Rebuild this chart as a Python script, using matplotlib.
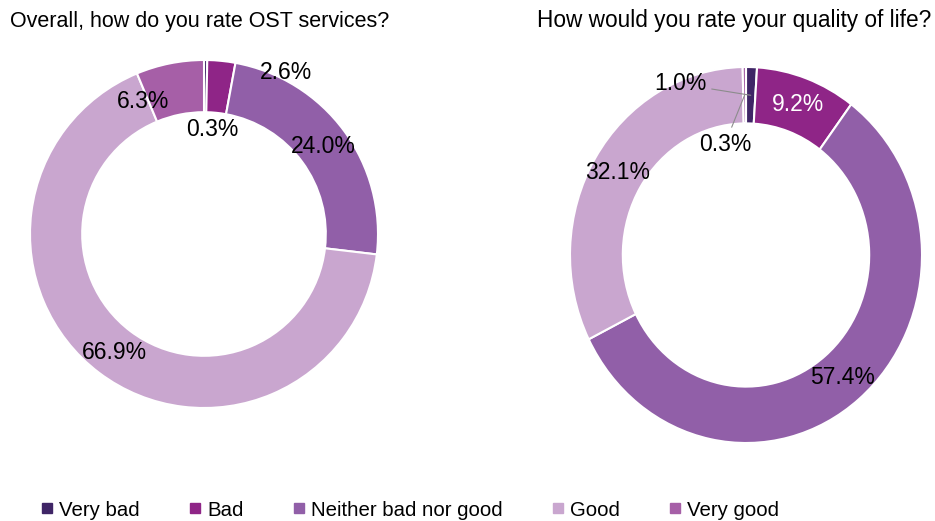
import numpy as np
import matplotlib
matplotlib.use("Agg")
import matplotlib.pyplot as plt
from matplotlib.lines import Line2D

plt.rcParams['font.family'] = ['Liberation Sans', 'DejaVu Sans']

categories = ['Very bad', 'Bad', 'Neither bad nor good', 'Good', 'Very good']
colors = ['#3f2566', '#8f2587', '#915fa8', '#c9a6cf', '#a65fa7']

ost_title = 'Overall, how do you rate OST services?'
ost_values = [0.3, 2.6, 24.0, 66.9, 6.3]

qol_title = 'How would you rate your quality of life?'
qol_values = [1.0, 9.2, 57.4, 32.1, 0.3]

# label placement (pie units); None = middle of the ring
ost_label_pos = [(0.05, 0.60), (0.47, 0.93), None, None, (-0.35, 0.76)]
qol_label_pos = [(-0.375, 0.91), None, None, None, (-0.12, 0.59)]
qol_leader = [True, False, False, False, True]
qol_label_colors = ['black', 'white', 'black', 'black', 'black']

RING = 0.30


def donut(ax, values, label_pos, leader=None, label_colors=None):
    wedges, _ = ax.pie(values, colors=colors, startangle=90, counterclock=False,
                       radius=1, wedgeprops=dict(width=RING, edgecolor='white', linewidth=1.5))
    ax.set_aspect('auto')
    ax.set_xlim(-1, 1)
    ax.set_ylim(-1, 1)
    ax.axis('off')
    for i, (w, v) in enumerate(zip(wedges, values)):
        ang = np.deg2rad((w.theta1 + w.theta2) / 2)
        rmid = 1 - RING / 2
        px, py = rmid * np.cos(ang), rmid * np.sin(ang)
        col = label_colors[i] if label_colors else 'black'
        pos = label_pos[i]
        txt = f'{v:.1f}%'
        if pos is None:
            ax.text(px, py, txt, ha='center', va='center', fontsize=16.5, color=col)
        elif leader and leader[i]:
            ax.annotate(txt, xy=(px, py), xytext=pos, ha='center', va='center',
                        fontsize=16.5, color=col,
                        arrowprops=dict(arrowstyle='-', color='#8c8c8c', lw=0.8,
                                        shrinkA=2, shrinkB=0))
        else:
            ax.text(pos[0], pos[1], txt, ha='center', va='center', fontsize=16.5, color=col)


fig = plt.figure(figsize=(9.35, 5.21), dpi=100)

ax1 = fig.add_axes([30 / 935, 1 - 408 / 521, 348 / 935, 348 / 521])
donut(ax1, ost_values, ost_label_pos)

ax2 = fig.add_axes([570 / 935, 1 - 443 / 521, 352 / 935, 376 / 521])
donut(ax2, qol_values, qol_label_pos, qol_leader, qol_label_colors)

fig.text(10 / 935, 1 - 22 / 521, ost_title, fontsize=15.5, va='center', ha='left')
fig.text(537 / 935, 1 - 20 / 521, qol_title, fontsize=16.3, va='center', ha='left')

handles = [Line2D([], [], marker='s', linestyle='none', markersize=7,
                  markerfacecolor=c, markeredgecolor=c) for c in colors]
fig.legend(handles, categories, loc='center', bbox_to_anchor=(410 / 935, 1 - 510 / 521),
           ncol=5, frameon=False, fontsize=14.7, handlelength=0.6, handletextpad=0.3,
           columnspacing=2.4)

fig.savefig('out.png', dpi=100)
